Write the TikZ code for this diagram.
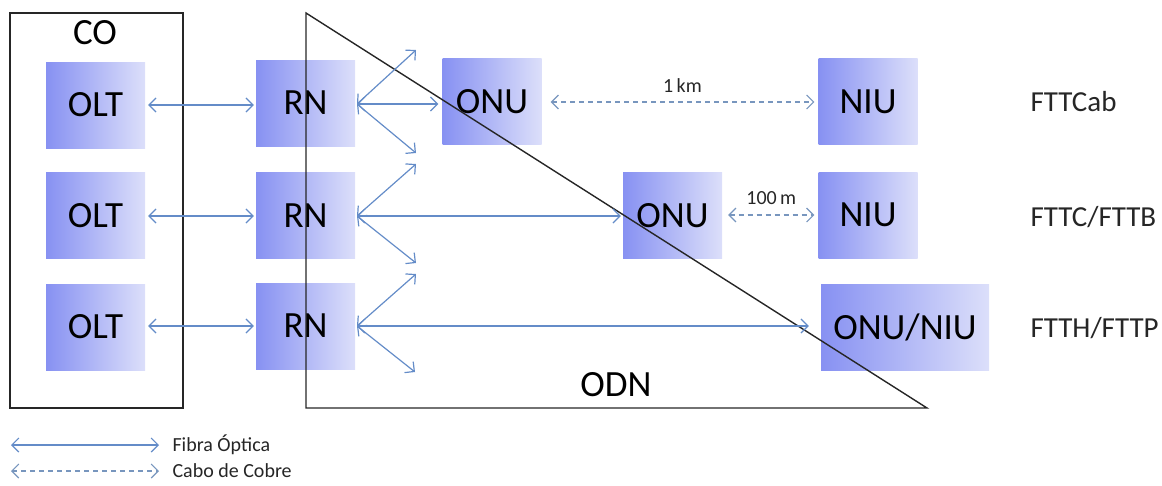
\documentclass[tikz,border=0pt]{standalone}
\usepackage{fontspec}
\setmainfont{Carlito}
\usetikzlibrary{arrows.meta}
\definecolor{boxL}{RGB}{135,145,242}
\definecolor{boxR}{RGB}{220,223,250}
\definecolor{fib}{RGB}{100,140,200}
\definecolor{cu}{RGB}{120,150,190}
\tikzset{
  unit/.style={draw=none, left color=boxL, right color=boxR, minimum width=99pt, minimum height=86pt, inner sep=0pt,
    font=\fontsize{37}{40}\selectfont, text=black},
  fibre/.style={draw=fib, line width=1.2pt, {Straight Barb[length=7pt,width=14pt]}-{Straight Barb[length=7pt,width=14pt]}},
  copper/.style={draw=cu, line width=1.1pt, dash pattern=on 5pt off 4pt, {Straight Barb[length=7pt,width=14pt]}-{Straight Barb[length=7pt,width=14pt]}},
  frame/.style={draw=black!85, line width=1.4pt},
  big/.style={font=\fontsize{37}{40}\selectfont},
  tech/.style={font=\fontsize{29}{32}\selectfont, anchor=west, text=black!85},
  dist/.style={font=\fontsize{20}{22}\selectfont, text=black!85},
  legend/.style={font=\fontsize{20}{22}\selectfont, anchor=west, text=black!85},
}
\begin{document}
\begin{tikzpicture}[x=1pt,y=-1pt]
\useasboundingbox (0,0) rectangle (1162,485);
% CO box
\draw[frame] (10,13) rectangle (183,408);
\node[big] (co) at (95,33) {CO};
% units
\node[unit] (olt1) at (95.5,105) {OLT};
\node[unit] (olt2) at (95.5,215.5) {OLT};
\node[unit] (olt3) at (95.5,327) {OLT};
\node[unit] (rn1) at (305.5,103) {RN};
\node[unit] (rn2) at (305.5,215.5) {RN};
\node[unit] (rn3) at (305.5,326) {RN};
\node[unit] (onu1) at (492,101.5) {ONU};
\node[unit] (niu1) at (868,101.5) {NIU};
\node[unit] (onu2) at (672.5,215.5) {ONU};
\node[unit] (niu2) at (868,215) {NIU};
\node[unit, minimum width=168pt] (onuniu) at (905,327.5) {ONU/NIU};
% ODN triangle
\coordinate (t1) at (306,13);
\coordinate (t2) at (306,408);
\coordinate (t3) at (927,408);
\draw[frame, line join=miter] (t1) -- (t2) -- (t3) -- cycle;
\node[big] (odn) at (616,385) {ODN};
% fan-out end points
\coordinate (u1) at (416,50);
\coordinate (d1) at (416,153);
\coordinate (u2) at (416,164);
\coordinate (d2) at (416,263);
\coordinate (u3) at (416,274);
\coordinate (d3) at (415,372);
\coordinate (r1) at (357,104);
\coordinate (r2) at (357,216);
\coordinate (r3) at (357,326);
% OLT - RN
\draw[fibre] ([xshift=3pt]olt1.east |- 0,105) -- ([xshift=-2pt]rn1.west |- 0,105);
\draw[fibre] ([xshift=3pt]olt2.east |- 0,216) -- ([xshift=-2pt]rn2.west |- 0,216);
\draw[fibre] ([xshift=3pt]olt3.east |- 0,326) -- ([xshift=-2pt]rn3.west |- 0,326);
% RN fan-outs
\draw[fibre] (r1) -- (u1);
\draw[fibre] (r1) -- (d1);
\draw[fibre] (r1) -- ([xshift=-4pt]onu1.west |- r1);
\draw[fibre] (r2) -- (u2);
\draw[fibre] (r2) -- (d2);
\draw[fibre] (r2) -- ([xshift=-2pt]onu2.west |- r2);
\draw[fibre] (r3) -- (u3);
\draw[fibre] (r3) -- (d3);
\draw[fibre] (r3) -- ([xshift=-12pt]onuniu.west |- r3);
% copper
\draw[copper] ([xshift=9pt]onu1.east |- 0,102) -- ([xshift=-4pt]niu1.west |- 0,102) node[dist, midway, above=6pt] {1\,km};
\draw[copper] ([xshift=6pt]onu2.east |- 0,215) -- ([xshift=-4pt]niu2.west |- 0,215) node[dist, midway, above=6pt] {100\,m};
% technologies
\node[tech] (t-cab) at (1027,102) {FTTCab};
\node[tech] (t-c) at (1027,217) {FTTC/FTTB};
\node[tech] (t-h) at (1027,328) {FTTH/FTTP};
% legend
\node[legend] (lf) at (169,445) {Fibra Óptica};
\node[legend] (lc) at (169,471) {Cabo de Cobre};
\draw[fibre] (11,445) -- ([xshift=-10pt]lf.west);
\draw[copper] (11,471) -- ([xshift=-10pt]lc.west);
\end{tikzpicture}
\end{document}
